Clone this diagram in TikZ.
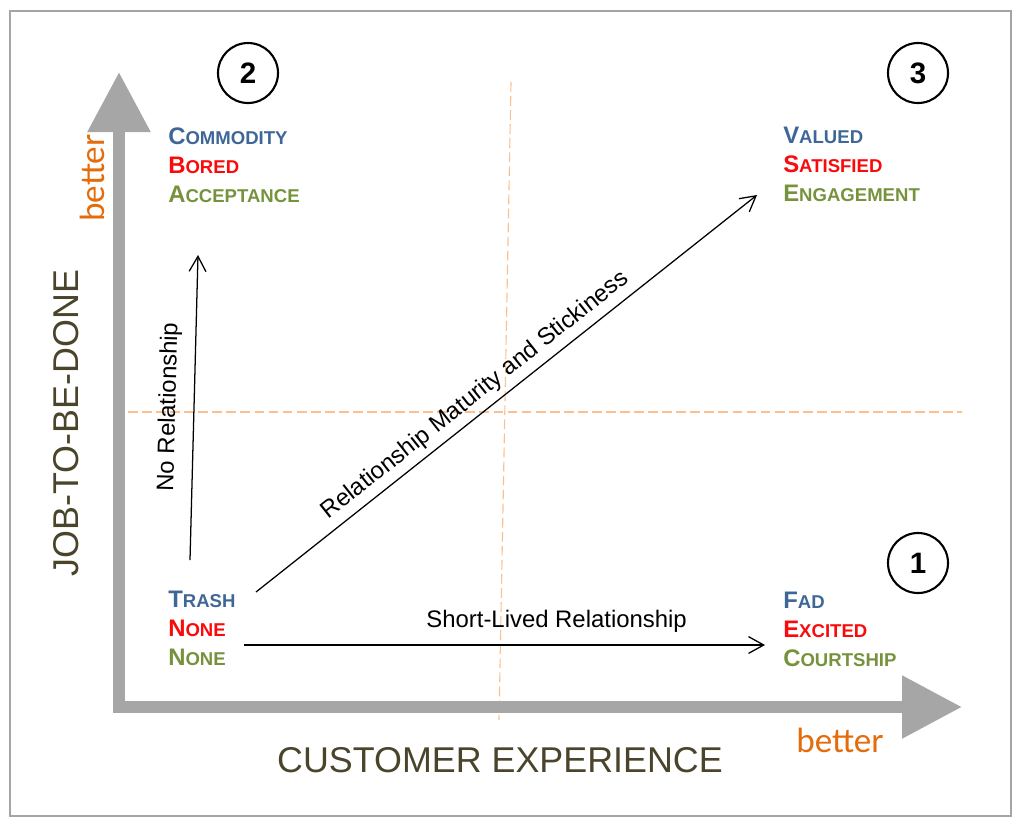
\documentclass[tikz,border=0pt]{standalone}
\usepackage{fontspec}
\setmainfont{Liberation Sans}
\newfontfamily\betterfont{Carlito}
\usepackage{xcolor}
\definecolor{qBlue}{RGB}{62,103,152}
\definecolor{qRed}{RGB}{250,10,10}
\definecolor{qGreen}{RGB}{118,146,60}
\definecolor{qAxis}{RGB}{166,166,166}
\definecolor{qDash}{RGB}{250,192,144}
\definecolor{qOrange}{RGB}{228,108,10}
\definecolor{qTitle}{RGB}{74,69,42}
\definecolor{qFrame}{RGB}{165,165,165}
\usetikzlibrary{positioning,arrows.meta}
\newcommand\smc[2]{{\fontsize{17}{20.6}\selectfont#1}{\fontsize{13.2}{13.2}\selectfont#2}}

\begin{document}
\begin{tikzpicture}[x=0.25mm,y=-0.25mm,
  quad/.style={align=left,anchor=north west,inner sep=0pt,font=\bfseries\fontsize{17}{20.6}\selectfont},
  num/.style={draw,circle,fill=white,line width=1.5pt,minimum size=15mm,inner sep=0pt,font=\bfseries\fontsize{21}{21}\selectfont},
  rel/.style={-{Straight Barb[length=3.8mm,width=4.2mm]},line width=0.9pt,font=\fontsize{17}{20}\selectfont},
  axis/.style={qAxis,line width=3mm,{Triangle[length=15mm,width=15mm]}-{Triangle[length=15mm,width=15mm]}},
  guide/.style={qDash,line width=0.8pt,dash pattern=on 7pt off 3pt},
  title/.style={qTitle,font=\fontsize{25.5}{25.5}\selectfont},
  better/.style={qOrange,font=\betterfont\fontsize{25}{25}\selectfont}]
  \useasboundingbox (0,0) rectangle (1024,823);
  \draw[qFrame,line width=1pt] (10,11) rectangle (1011,816);
  % quadrant guides
  \coordinate (gTop) at (511,82);
  \coordinate (gBot) at (499,720);
  \coordinate (gLeft) at (128,412);
  \coordinate (gRight) at (962,412);
  \draw[guide] (gTop) -- (gBot);
  \draw[guide] (gLeft) -- (gRight);
  % axes
  \coordinate (origin) at (119,707);
  \coordinate (yTip) at (119,72);
  \coordinate (xTip) at (962,707);
  \draw[axis] (yTip) -- (origin) -- (xTip);
  \node[title,rotate=90] (jtbd) at (66,423) {JOB-TO-BE-DONE};
  \node[title] (cx) at (500,760) {CUSTOMER EXPERIENCE};
  \node[better,rotate=90] (betterY) at (92,178) {better};
  \node[better] (betterX) at (840,740) {better};
  % quadrants
  \node[num] (c2) at (248,73) {2};
  \node[num] (c3) at (918,73) {3};
  \node[num] (c1) at (918,563) {1};
  \node[quad] (commodity) at (168,128) {\textcolor{qBlue}{\smc{C}{OMMODITY}}\\
    \textcolor{qRed}{\smc{B}{ORED}}\\\textcolor{qGreen}{\smc{A}{CCEPTANCE}}};
  \node[quad] (valued) at (783,127) {\textcolor{qBlue}{\smc{V}{ALUED}}\\
    \textcolor{qRed}{\smc{S}{ATISFIED}}\\\textcolor{qGreen}{\smc{E}{NGAGEMENT}}};
  \node[quad] (trash) at (168,591) {\textcolor{qBlue}{\smc{T}{RASH}}\\
    \textcolor{qRed}{\smc{N}{ONE}}\\\textcolor{qGreen}{\smc{N}{ONE}}};
  \node[quad] (fad) at (783,592) {\textcolor{qBlue}{\smc{F}{AD}}\\
    \textcolor{qRed}{\smc{E}{XCITED}}\\\textcolor{qGreen}{\smc{C}{OURTSHIP}}};
  % relationship paths
  \coordinate (nrFrom) at (190,560);
  \coordinate (nrTo) at (198,255);
  \coordinate (rmFrom) at (256,592);
  \coordinate (rmTo) at (757,195);
  \coordinate (slFrom) at (244,645);
  \coordinate (slTo) at (765,645);
  \draw[rel] (nrFrom) -- node[sloped,above=6pt]{No Relationship} (nrTo);
  \draw[rel] (rmFrom) -- node[pos=0.46,sloped,above=1pt]{Relationship Maturity and Stickiness} (rmTo);
  \draw[rel] (slFrom) -- node[pos=0.6,above=5pt]{Short-Lived Relationship} (slTo);
\end{tikzpicture}
\end{document}
